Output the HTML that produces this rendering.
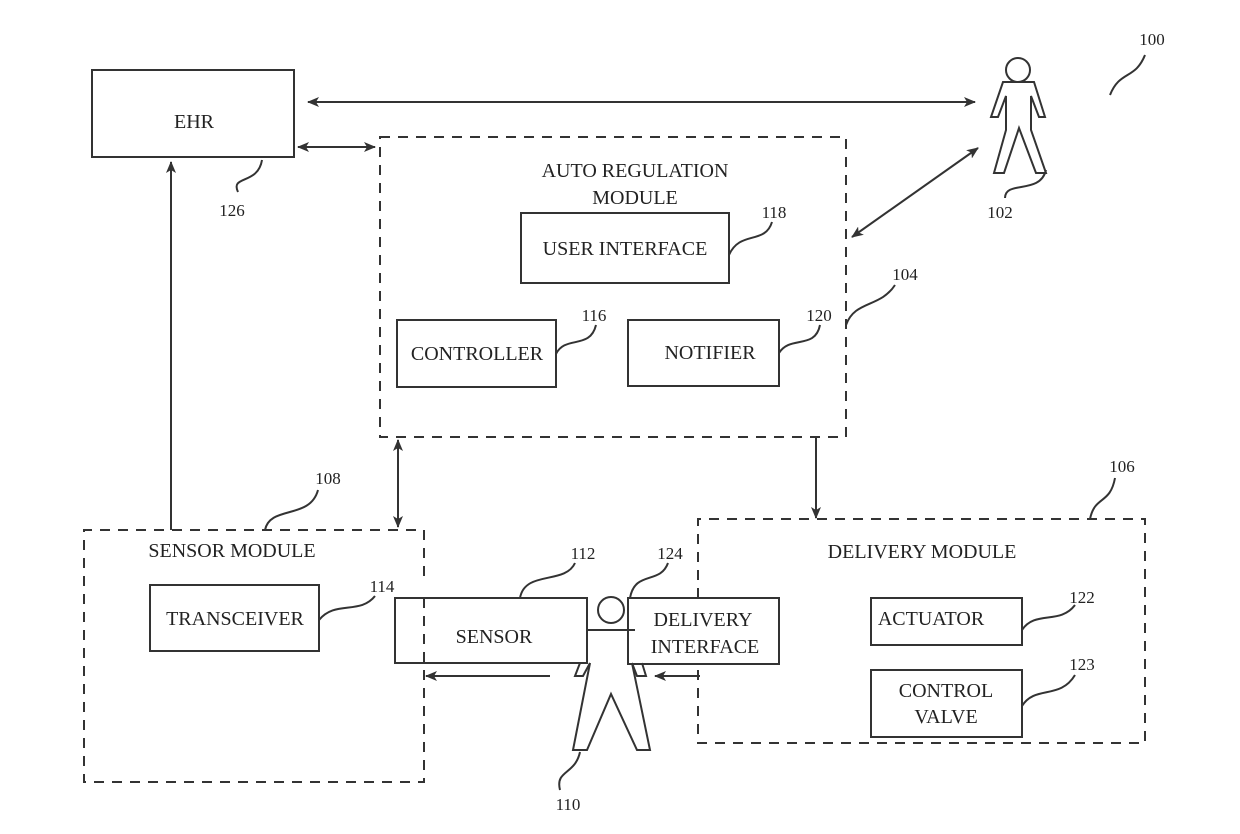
<!DOCTYPE html>
<html><head><style>body{margin:0;background:#fff}svg{display:block}text{font-family:"Liberation Serif",serif;fill:#222}</style></head>
<body>
<svg width="1240" height="834" viewBox="0 0 1240 834" xmlns="http://www.w3.org/2000/svg">
<defs><marker id="a" markerWidth="12" markerHeight="10" refX="11" refY="5" orient="auto-start-reverse" markerUnits="userSpaceOnUse"><path d="M0,0 L12,5 L0,10 L3,5z" fill="#333"/></marker></defs>
<g fill="none" stroke="#333" stroke-width="2">
<rect x="92" y="70" width="202" height="87"/>
<rect x="521" y="213" width="208" height="70"/>
<rect x="397" y="320" width="159" height="67"/>
<rect x="628" y="320" width="151" height="66"/>
<rect x="150" y="585" width="169" height="66"/>
<rect x="395" y="598" width="192" height="65"/>
<rect x="628" y="598" width="151" height="66"/>
<rect x="871" y="598" width="151" height="47"/>
<rect x="871" y="670" width="151" height="67"/>
<g stroke-dasharray="10,8">
<rect x="380" y="137" width="466" height="300"/>
<path d="M424,598 V782 H84 V530 H424 V582"/>
<path d="M698,598 V519 H1145 V743 H698 V664"/>
</g>
<g marker-end="url(#a)">
<line x1="308" y1="102" x2="975" y2="102" marker-start="url(#a)"/>
<line x1="298" y1="147" x2="375" y2="147" marker-start="url(#a)"/>
<line x1="978" y1="148" x2="852" y2="237" marker-start="url(#a)"/>
<line x1="398" y1="440" x2="398" y2="527" marker-start="url(#a)"/>
<line x1="171" y1="530" x2="171" y2="162"/>
<line x1="816" y1="437" x2="816" y2="518"/>
<line x1="550" y1="676" x2="426" y2="676"/>
<line x1="700" y1="676" x2="655" y2="676"/>
</g>
<!-- person 110 -->
<circle cx="611" cy="610" r="13"/>
<path d="M587,630 H635"/>
<path d="M590,663 L583,676 H575 L580,663 M632,663 L637,676 H646 L642,663"/>
<path d="M590,663 L573,750 H587 L611,694 L637,750 H650 L632,663"/>
<!-- person 102 -->
<circle cx="1018" cy="70" r="12"/>
<path d="M1003,82 H1034 L1045,117 H1039 L1031,96 L1031,130 L1046,173 H1036 L1019,128 L1004,173 H994 L1006,130 L1006,96 L998,117 H991 Z"/>
<!-- squiggles -->
<path d="M1110,95 C1120,70 1135,80 1145,55"/>
<path d="M262,160 C258,185 230,175 238,192"/>
<path d="M1046,170 C1040,195 1005,180 1005,198"/>
<path d="M846,325 C855,300 880,308 895,285"/>
<path d="M729,255 C740,230 765,245 772,222"/>
<path d="M556,354 C565,335 590,350 596,325"/>
<path d="M779,353 C790,335 815,350 820,325"/>
<path d="M265,530 C270,505 310,520 318,490"/>
<path d="M520,598 C525,570 565,585 575,563"/>
<path d="M630,598 C635,570 660,585 668,563"/>
<path d="M319,620 C335,600 360,615 375,596"/>
<path d="M1090,519 C1095,495 1110,505 1115,478"/>
<path d="M1022,630 C1035,610 1060,625 1075,605"/>
<path d="M1022,706 C1035,685 1060,700 1075,675"/>
<path d="M580,752 C575,775 555,770 560,790"/>
</g>
<g font-size="20" text-anchor="middle">
<text x="194" y="128">EHR</text>
<text x="635" y="177">AUTO REGULATION</text>
<text x="635" y="204">MODULE</text>
<text x="625" y="255">USER INTERFACE</text>
<text x="477" y="360">CONTROLLER</text>
<text x="710" y="359">NOTIFIER</text>
<text x="232" y="557">SENSOR MODULE</text>
<text x="235" y="625">TRANSCEIVER</text>
<text x="494" y="643">SENSOR</text>
<text x="703" y="626">DELIVERY</text>
<text x="705" y="653">INTERFACE</text>
<text x="922" y="558">DELIVERY MODULE</text>
<text x="931" y="625">ACTUATOR</text>
<text x="946" y="697">CONTROL</text>
<text x="946" y="723">VALVE</text>
</g>
<g font-size="17" text-anchor="middle">
<text x="1152" y="45">100</text>
<text x="232" y="216">126</text>
<text x="1000" y="218">102</text>
<text x="905" y="280">104</text>
<text x="774" y="218">118</text>
<text x="594" y="321">116</text>
<text x="819" y="321">120</text>
<text x="328" y="484">108</text>
<text x="583" y="559">112</text>
<text x="670" y="559">124</text>
<text x="382" y="592">114</text>
<text x="1122" y="472">106</text>
<text x="1082" y="603">122</text>
<text x="1082" y="670">123</text>
<text x="568" y="810">110</text>
</g>
</svg>
</body></html>
